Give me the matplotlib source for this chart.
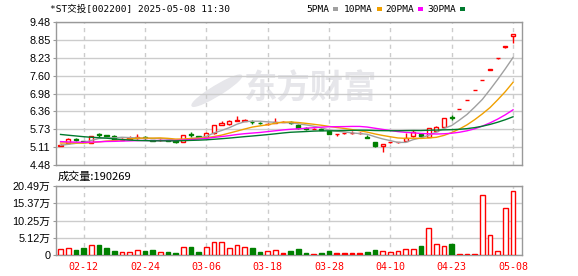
import numpy as np
import pandas as pd
import matplotlib
matplotlib.use("Agg")
import matplotlib.pyplot as plt
from matplotlib.patches import Rectangle, Ellipse


# daily bars of *ST交投, price in yuan, volume in 万 lots
open_ = [5.15, 5.24, 5.38, 5.32, 5.26, 5.55, 5.53, 5.50, 5.36, 5.40,
         5.44, 5.46, 5.35, 5.34, 5.36, 5.31, 5.29, 5.56, 5.48, 5.47,
         5.59, 5.89, 5.90, 6.03, 6.02, 6.00, 5.96, 5.90, 5.95, 6.00,
         6.00, 5.89, 5.77, 5.75, 5.74, 5.66, 5.56, 5.59, 5.59, 5.60,
         5.45, 5.29, 5.14, 5.27, 5.27, 5.33, 5.48, 5.55, 5.47, 5.68,
         5.82, 6.15, 6.44, 6.76, 7.10, 7.45, 7.82, 8.21, 8.62, 9.01]
high = [5.21, 5.41, 5.42, 5.33, 5.50, 5.60, 5.54, 5.53, 5.42, 5.51,
        5.55, 5.51, 5.36, 5.39, 5.37, 5.32, 5.53, 5.64, 5.49, 5.63,
        5.89, 6.03, 6.04, 6.19, 6.09, 6.04, 5.97, 5.94, 6.11, 6.01,
        6.01, 5.90, 5.80, 5.76, 5.76, 5.67, 5.57, 5.60, 5.67, 5.62,
        5.52, 5.30, 5.22, 5.30, 5.30, 5.61, 5.70, 5.57, 5.77, 5.83,
        6.13, 6.24, 6.44, 6.76, 7.10, 7.46, 7.83, 8.22, 8.63, 9.06]
low = [5.13, 5.22, 5.33, 5.27, 5.24, 5.47, 5.50, 5.32, 5.35, 5.39,
       5.40, 5.40, 5.31, 5.33, 5.31, 5.26, 5.27, 5.46, 5.44, 5.46,
       5.58, 5.88, 5.89, 6.02, 6.01, 5.92, 5.93, 5.89, 5.94, 5.99,
       5.93, 5.75, 5.70, 5.74, 5.69, 5.56, 5.50, 5.58, 5.58, 5.58,
       5.43, 5.12, 4.93, 5.26, 5.26, 5.32, 5.47, 5.44, 5.46, 5.67,
       5.81, 6.05, 6.44, 6.76, 7.10, 7.44, 7.81, 8.20, 8.57, 8.75]
close = [5.19, 5.38, 5.36, 5.29, 5.48, 5.53, 5.51, 5.34, 5.40, 5.42,
         5.47, 5.44, 5.33, 5.37, 5.33, 5.28, 5.52, 5.54, 5.46, 5.61,
         5.88, 5.95, 6.03, 6.07, 6.05, 5.97, 5.94, 5.93, 5.98, 6.00,
         5.94, 5.76, 5.74, 5.75, 5.71, 5.57, 5.56, 5.59, 5.59, 5.60,
         5.44, 5.13, 5.21, 5.29, 5.29, 5.44, 5.62, 5.50, 5.76, 5.82,
         6.11, 6.12, 6.44, 6.76, 7.10, 7.46, 7.83, 8.22, 8.63, 9.06]
volume = [1.77, 1.97, 1.48, 2.07, 2.96, 2.96, 2.07, 1.28, 0.89, 0.89,
          1.38, 1.18, 1.48, 0.89, 0.89, 0.59, 2.27, 2.36, 0.89, 2.27,
          3.74, 3.74, 1.97, 2.86, 2.27, 2.07, 0.89, 1.18, 1.38, 0.59,
          1.18, 1.77, 0.59, 0.30, 0.59, 1.18, 0.59, 0.59, 0.59, 0.59,
          0.89, 1.48, 1.18, 0.79, 1.08, 1.67, 1.67, 2.66, 7.88, 3.15,
          2.56, 3.25, 0.20, 0.20, 0.20, 17.73, 5.81, 1.18, 14.09, 19.03]
# closes of the 29 sessions before the window, only feed the moving averages
earlier_close = [6.20, 6.12, 6.08, 6.05, 6.00, 6.02, 6.10, 6.05, 5.98, 5.90,
                 5.62, 5.50, 5.42, 5.35, 5.30, 5.28, 5.25, 5.22, 5.26, 5.30,
                 5.36, 5.38, 5.32, 5.30, 5.29, 5.22, 5.18, 5.15, 5.12]

date_labels = ["02-12", "02-24", "03-06", "03-18", "03-28", "04-10", "04-23", "05-08"]
first_label_bar = 3
bars_per_label = 8
price_ticks = [4.48, 5.11, 5.73, 6.36, 6.98, 7.60, 8.23, 8.85, 9.48]
volume_ticks = [0, 5.12, 10.25, 15.37, 20.49]
ma_windows = [5, 10, 20, 30]
ma_colors = ["#a0a0a0", "#f0a000", "#ff00ff", "#007a2e"]
last_volume = 190269

RED = "#ff0000"
GREEN = "#008000"
GRID = "#cccccc"
FRAME = "#999999"
CJK = ["DejaVu Sans Mono", "Noto Sans CJK SC"]
NUM = ["Liberation Sans", "Noto Sans CJK SC"]

o = np.array(open_)
c = np.array(close)
n = len(c)
x = np.arange(n)
up = c > o
flat = c == o
body_color = [RED if (u or f) else GREEN for u, f in zip(up, flat)]
body_face = ["white" if u else col for u, col in zip(up, body_color)]

fig = plt.figure(figsize=(5.78, 2.76), dpi=100)
ax = fig.add_axes([0.0969, 0.402, 0.8062, 0.518])
axv = fig.add_axes([0.0969, 0.076, 0.8062, 0.250], sharex=ax)

label_pos = np.arange(first_label_bar, n, bars_per_label)

for a in (ax, axv):
    for s in a.spines.values():
        s.set_color(FRAME)
        s.set_linewidth(1)
    a.set_xticks(label_pos)
    a.grid(axis="x", color=GRID, lw=1, ls=(0, (3, 3)))
    a.grid(axis="y", color=GRID, lw=1, ls="-")
    a.set_axisbelow(True)
    a.tick_params(axis="x", length=0)
    a.tick_params(axis="y", length=2, color=FRAME, pad=2, labelsize=7.8)

# watermark
ax.text(0.545, 0.53, "东方财富", transform=ax.transAxes, ha="center", va="center",
        fontsize=24, fontweight="bold", color="#e6e6ea", family="Noto Sans CJK SC", zorder=0)
ax.add_patch(Ellipse((0.345, 0.52), 0.035, 0.24, angle=-25, transform=ax.transAxes,
                     color="#e6e6ea", zorder=0))

# candles
ax.vlines(x, low, high, colors=body_color, lw=1, zorder=2)
ax.bar(x, np.abs(c - o), bottom=np.minimum(o, c), width=0.55,
       facecolor=body_face, edgecolor=body_color, lw=1, zorder=3)

# moving averages
all_close = pd.Series(earlier_close + close)
for w, col in zip(ma_windows, ma_colors):
    ma = all_close.rolling(w).mean().iloc[-n:].to_numpy()
    ax.plot(x, ma, color=col, lw=1, zorder=4)

ax.set_ylim(price_ticks[0], price_ticks[-1])
ax.set_yticks(price_ticks)
ax.set_yticklabels([f"{t:.2f}" for t in price_ticks], family="Liberation Sans")
ax.set_xlim(-0.59, 60.17)
ax.tick_params(axis="x", labelbottom=False)

# volume
axv.bar(x, volume, width=0.6, facecolor=body_face, edgecolor=body_color, lw=1, zorder=3)
axv.set_ylim(0, volume_ticks[-1])
axv.set_yticks(volume_ticks)
axv.set_yticklabels(["0"] + [f"{t:.2f}万" for t in volume_ticks[1:]], family=NUM)
axv.set_xticklabels(date_labels, color=RED, family="DejaVu Sans Mono", fontsize=7.2)
axv.tick_params(axis="x", pad=5)

# header texts
fig.text(50 / 578, 1 - 9 / 276, "*ST交投[002200] 2025-05-08 11:30", family=CJK,
         fontsize=6.8, va="center", ha="left")
legend_x = [306, 344, 385, 427]
for lx, w, col in zip(legend_x, ma_windows, ma_colors):
    t = f"{w}PMA"
    fig.text(lx / 578, 1 - 9 / 276, t, family="DejaVu Sans Mono", fontsize=6.8,
             va="center", ha="left")
    sx = lx + len(t) * 5.7 + 4
    fig.add_artist(Rectangle((sx / 578, 1 - 11 / 276), 5 / 578, 4 / 276,
                             transform=fig.transFigure, color=col, lw=0))
fig.text(58 / 578, 1 - 177 / 276, f"成交量:{last_volume}", family=["Noto Sans CJK SC"],
         fontsize=8, va="center", ha="left")

fig.savefig("out.png", dpi=100)
